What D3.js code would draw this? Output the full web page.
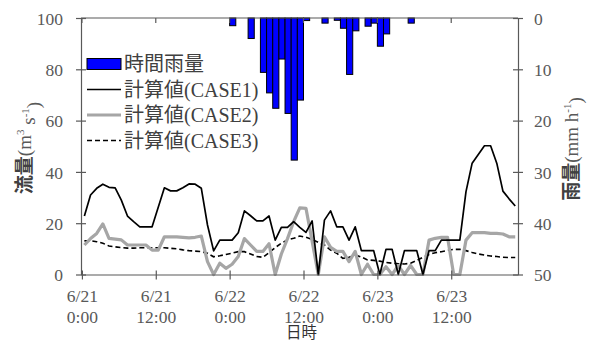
<!DOCTYPE html>
<html><head><meta charset="utf-8">
<script src="https://cdn.jsdelivr.net/npm/d3@7"></script>
<style>body{margin:0;background:#fff}svg{display:block}</style>
</head><body><svg id="c" width="590" height="342"></svg>
<script>
// ---- data ----
const hours = d3.range(0, 71); // hourly steps from 6/21 0:00
const case1 = [
  22.8, 31, 33.6, 35.2, 34, 33.8, 29, 22.8, 20.6, 18.6,
  18.6, 18.6, 26.2, 33.8, 32.6, 32.6, 33.8, 35.3, 35.2, 33.6,
  19.3, 9.2, 13.4, 13.4, 13.4, 16.3, 24.8, 22.9, 20.9, 20.9,
  22.8, 13.4, 18.4, 18.4, 20.6, 18.4, 16.4, 20.9, 0, 21.2,
  24.8, 18.6, 18.6, 13.4, 18.6, 9.3, 9.3, 9.3, 0, 9.8,
  9.8, 0, 9.3, 9.3, 9.3, 0, 9.3, 9.3, 13.4, 13.4,
  13.4, 13.4, 32.3, 43.4, 46.8, 50.2, 50.2, 43.4, 32.5, 29.5,
  26.7
];
const case2 = [
  11.5, 14, 16, 19.7, 14.1, 13.8, 13.5, 11.5, 11.5, 11.5,
  11.5, 9.5, 9.5, 14.7, 14.7, 14.7, 14.5, 14.3, 14.5, 15,
  5, 0, 4.4, 2.4, 4, 7, 14, 11.5, 9, 9,
  12, 0, 8, 14, 20.6, 26, 25.8, 13, 0, 14.7,
  10.6, 9, 9, 5, 9, 0, 4, 0, 0, 3,
  0, 3.5, 0, 3.5, 0, 0, 13.4, 14.1, 14.5, 14.5,
  0, 0, 13.4, 16.3, 16.3, 16.3, 16, 16, 15.8, 14.7,
  14.7
];
const case3 = [
  13.1, 13.2, 12.8, 12.2, 11.1, 10.8, 10.5, 10.3, 10.3, 10.4,
  10.4, 10.4, 10.4, 10.4, 10.2, 10, 9.6, 9.3, 9.1, 8.9,
  8.3, 6.9, 7.3, 7.8, 8.3, 8.9, 8.9, 8, 7, 6.7,
  8.5, 10.5, 12.2, 13.5, 14.1, 15, 14.5, 13.7, 12.5, 11.5,
  9.5, 8.3, 6.3, 6.7, 7.6, 6.8, 5.7, 5.5, 5.2, 4.7,
  4.4, 4.2, 4.1, 4.4, 5.5, 6.7, 7.8, 8.5, 8.9, 9.4,
  9.8, 9.8, 9.3, 8.6, 8, 7.6, 7.2, 7, 6.7, 6.6,
  6.6
];
const rain = [
  0, 0, 0, 0, 0, 0, 0, 0, 0, 0,
  0, 0, 0, 0, 0, 0, 0, 0, 0, 0,
  0, 0, 0, 0, 1.5, 0, 0, 4.0, 0, 10.6,
  14.6, 17.6, 8.0, 18.6, 27.7, 16.0, 0.5, 0, 0, 1.0,
  0, 0.45, 2.0, 11.0, 2.5, 0, 1.6, 1.0, 5.5, 3.1,
  0, 0, 0, 1.0, 0, 0, 0, 0, 0, 0,
  0, 0, 0, 0, 0, 0, 0, 0, 0, 0,
  0
];
const flowTicks = [0, 20, 40, 60, 80, 100];
const rainTicks = [0, 10, 20, 30, 40, 50];
const xTickHours = [0, 12, 24, 36, 48, 60];
const xTickDates = ["6/21", "6/21", "6/22", "6/22", "6/23", "6/23"];
const xTickTimes = ["0:00", "12:00", "0:00", "12:00", "0:00", "12:00"];
const legendLabels = ["時間雨量", "計算値(CASE1)", "計算値(CASE2)", "計算値(CASE3)"];

// ---- layout ----
const L = 81, R = 518, T = 18, B = 274.5;
const svg = d3.select("#c");
const x = d3.scaleLinear().domain([-0.15, 70.85]).range([L, R]);
const yF = d3.scaleLinear().domain([0, 100]).range([B, T]);
const yR = d3.scaleLinear().domain([0, 50]).range([T, B]);
const serif = "'Liberation Serif','Noto Sans CJK JP',serif";
const axisCol = "#595959";
const lineOff = 0.4;

// rain bars
svg.append("g").selectAll("rect")
  .data(hours.filter(h => rain[h] > 0))
  .join("rect")
  .attr("x", h => x(h)).attr("width", h => x(h + 1) - x(h))
  .attr("y", yR(0)).attr("height", h => yR(rain[h]) - yR(0))
  .attr("fill", "#0000ff").attr("stroke", "#000").attr("stroke-width", 1);

// lines
const mk = arr => d3.line().x((d, i) => x(hours[i] + lineOff)).y(d => yF(d))(arr);
svg.append("path").attr("d", mk(case3)).attr("fill", "none").attr("stroke", "#000")
  .attr("stroke-width", 1.6).attr("stroke-dasharray", "5,3");
svg.append("path").attr("d", mk(case2)).attr("fill", "none").attr("stroke", "#a6a6a6")
  .attr("stroke-width", 3.2).attr("stroke-linejoin", "round");
svg.append("path").attr("d", mk(case1)).attr("fill", "none").attr("stroke", "#000")
  .attr("stroke-width", 1.7).attr("stroke-linejoin", "round");

// top border with inward ticks
svg.append("line").attr("x1", L).attr("x2", R).attr("y1", T).attr("y2", T)
  .attr("stroke", axisCol).attr("stroke-width", 1.2);
svg.append("g").selectAll("line").data(xTickHours).join("line")
  .attr("x1", d => x(d)).attr("x2", d => x(d)).attr("y1", T).attr("y2", T + 5)
  .attr("stroke", axisCol).attr("stroke-width", 1.2);

// x axis
const gx = svg.append("g").attr("transform", `translate(0,${B})`)
  .call(d3.axisBottom(x).tickValues(xTickHours).tickSizeOuter(0).tickFormat(""));
gx.select(".domain").attr("stroke", axisCol).attr("stroke-width", 1.2);
gx.selectAll(".tick line").attr("y1", -4).attr("y2", 5).attr("stroke", axisCol).attr("stroke-width", 1.2);
gx.selectAll(".tick text").remove();
gx.selectAll(".tick").each(function (d, i) {
  const t = d3.select(this).append("text").attr("text-anchor", "middle")
    .attr("font-family", serif).attr("font-size", 17.5).attr("fill", axisCol);
  t.append("tspan").attr("x", 0).attr("y", 27).text(xTickDates[i]);
  t.append("tspan").attr("x", 0).attr("y", 48).text(xTickTimes[i]);
});

// left axis
const gl = svg.append("g").attr("transform", `translate(${L},0)`)
  .call(d3.axisLeft(yF).tickValues(flowTicks).tickSizeOuter(0));
gl.select(".domain").attr("stroke", axisCol).attr("stroke-width", 1.2);
gl.selectAll(".tick line").attr("x1", -5).attr("x2", 5).attr("stroke", axisCol).attr("stroke-width", 1.2);
gl.selectAll(".tick text").attr("x", -18).attr("dy", "0.35em")
  .attr("font-family", serif).attr("font-size", 17.5).attr("fill", axisCol);

// right axis
const gr = svg.append("g").attr("transform", `translate(${R},0)`)
  .call(d3.axisRight(yR).tickValues(rainTicks).tickSizeOuter(0));
gr.select(".domain").attr("stroke", axisCol).attr("stroke-width", 1.2);
gr.selectAll(".tick line").attr("x1", -5).attr("x2", 5).attr("stroke", axisCol).attr("stroke-width", 1.2);
gr.selectAll(".tick text").attr("x", 16).attr("dy", "0.35em")
  .attr("font-family", serif).attr("font-size", 17.5).attr("fill", axisCol);

// axis titles
function yTitle(cx, cy, main, unitA, supA, unitB, supB) {
  const t = svg.append("text").attr("transform", `translate(${cx},${cy}) rotate(-90)`)
    .attr("text-anchor", "middle").attr("dy", "0.35em")
    .attr("font-family", serif).attr("font-size", 19).attr("fill", axisCol);
  t.append("tspan").attr("font-family", "'Noto Sans CJK JP',sans-serif").attr("font-weight", 700)
    .attr("fill", "#404040").text(main);
  t.append("tspan").text(unitA);
  t.append("tspan").attr("font-size", 11).attr("dy", "-0.6em").text(supA);
  if (unitB) t.append("tspan").attr("dy", "0.6em").text(unitB);
  if (supB) t.append("tspan").attr("font-size", 11).attr("dy", "-0.6em").text(supB);
  t.append("tspan").attr("dy", "0.6em").text(")");
}
yTitle(24, 148, "流量", "(m", "3", " s", "-1");
yTitle(571, 149, "雨量", "(mm h", "-1", "", "");

svg.append("text").attr("x", (L + R) / 2 + 2).attr("y", 333).attr("dy", "0.35em")
  .attr("text-anchor", "middle").attr("font-family", "'Noto Sans CJK JP',sans-serif")
  .attr("font-size", 15.5).attr("fill", "#333").text("日時");

// legend
const lg = svg.append("g");
const rowsY = [64, 89.5, 115, 140.5];
lg.append("rect").attr("x", 87).attr("y", rowsY[0] - 5.5).attr("width", 34).attr("height", 11)
  .attr("fill", "#0000ff").attr("stroke", "#000").attr("stroke-width", 1);
const styles = [
  { c: "#000", w: 1.7, d: null },
  { c: "#a6a6a6", w: 3.2, d: null },
  { c: "#000", w: 1.6, d: "5,3" }
];
styles.forEach((s, i) => {
  lg.append("line").attr("x1", 87).attr("x2", 121).attr("y1", rowsY[i + 1]).attr("y2", rowsY[i + 1])
    .attr("stroke", s.c).attr("stroke-width", s.w).attr("stroke-dasharray", s.d);
});
legendLabels.forEach((lab, i) => {
  lg.append("text").attr("x", 124).attr("y", rowsY[i]).attr("dy", "0.35em")
    .attr("font-family", serif).attr("font-size", 20).attr("fill", "#404040").text(lab);
});
</script></body></html>
